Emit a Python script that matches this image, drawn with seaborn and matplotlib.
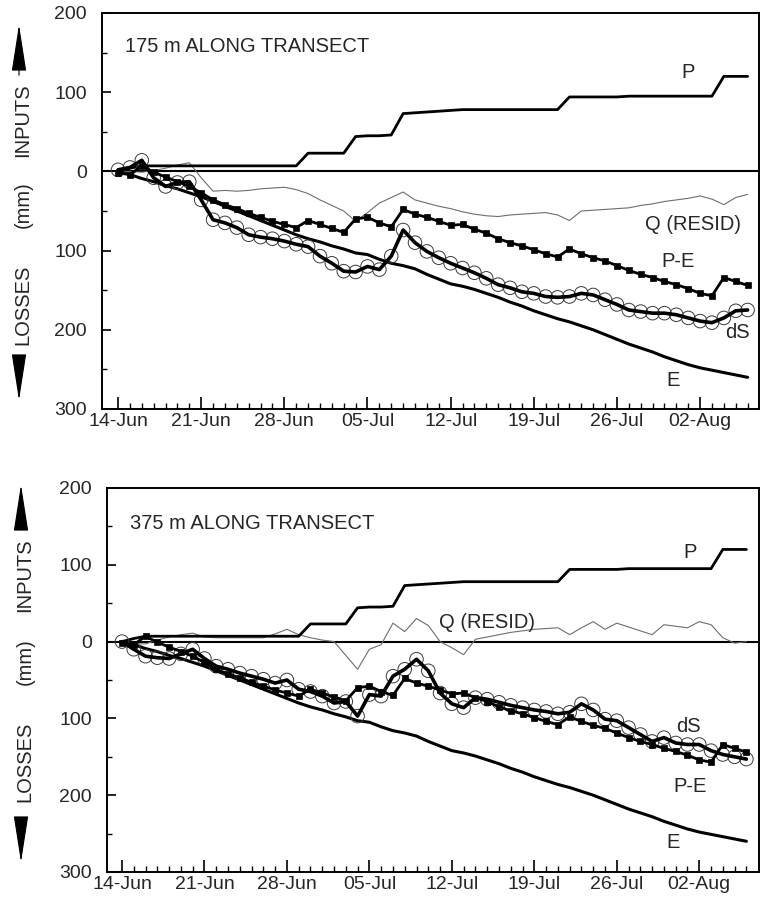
import matplotlib
matplotlib.use("Agg")
import matplotlib.pyplot as plt
import seaborn as sns
import numpy as np

sns.set_style("ticks")
plt.rcParams['font.family'] = ['Liberation Sans', 'DejaVu Sans']

# ---------------- data (days since 14-Jun) ----------------
days = list(range(54))
tick_days = [0, 7, 14, 21, 28, 35, 42, 49]
tick_labels = ["14-Jun", "21-Jun", "28-Jun", "05-Jul", "12-Jul", "19-Jul", "26-Jul", "02-Aug"]
y_major = [200, 100, 0, -100, -200, -300]
y_labels = ["200", "100", "0", "100", "200", "300"]
y_minor = [150, 50, -50, -150, -250]

P = [0, 4, 7, 7, 7, 7, 7, 7, 7, 7, 7, 7, 7, 7, 7, 7, 23, 23, 23, 23,
     44, 45, 45, 46, 73, 74, 75, 76, 77, 78, 78, 78, 78, 78, 78, 78, 78, 78,
     94, 94, 94, 94, 94, 95, 95, 95, 95, 95, 95, 95, 95, 120, 120, 120]

E = [0, -4, -9, -13, -18, -22, -27, -32, -38, -44, -50, -56, -62, -68, -74,
     -80, -85, -89, -94, -98, -103, -105, -111, -116, -119, -123, -130, -136,
     -142, -145, -149, -154, -159, -165, -170, -176, -181, -186, -190, -195,
     -200, -206, -212, -218, -223, -228, -234, -239, -244, -248, -251, -254,
     -257, -260]

PE = [-2, -4, 7, -1, -7, -13, -19, -27, -36, -42, -47, -53, -58, -63, -67,
      -71, -62, -67, -72, -77, -60, -58, -65, -70, -48, -54, -58, -63, -68,
      -67, -73, -78, -85, -90, -94, -99, -104, -108, -98, -104, -109, -113,
      -119, -125, -130, -134, -139, -143, -148, -154, -157, -134, -139, -144]

dS_175 = [2, 5, 14, -8, -19, -14, -13, -36, -61, -65, -71, -80, -83, -85, -88,
          -92, -95, -107, -116, -126, -127, -120, -124, -107, -74, -90, -101,
          -109, -116, -122, -128, -135, -143, -147, -152, -154, -158, -159,
          -158, -154, -156, -162, -168, -175, -177, -179, -179, -181, -185,
          -189, -191, -185, -176, -175]

Q_175 = [0, 0, -1, 1, 4, 8, 11, -8, -25, -24, -25, -24, -22, -21, -20, -23,
         -28, -36, -43, -50, -63, -52, -40, -33, -26, -36, -40, -44, -47, -51,
         -54, -56, -57, -55, -54, -53, -52, -55, -62, -50, -49, -48, -47, -46,
         -43, -41, -38, -36, -34, -31, -35, -42, -33, -29]

dS_375 = [0, -10, -19, -21, -22, -16, -10, -22, -32, -36, -41, -45, -49, -54,
          -50, -62, -65, -71, -80, -78, -97, -69, -71, -45, -36, -23, -38, -67,
          -81, -86, -73, -75, -79, -83, -86, -89, -91, -94, -92, -81, -89,
          -101, -103, -112, -121, -130, -125, -132, -134, -134, -142, -147,
          -150, -153]

Q_375 = [0, -3, -3, 2, 6, 9, 11, 6, 5, 5, 5, 5, 5, 10, 16, 9, 5, 2, 0, -18,
         -36, -10, -4, 24, 13, 30, 21, 0, -8, -17, 3, 6, 9, 12, 14, 16, 17, 18,
         9, 18, 26, 16, 24, 19, 14, 9, 22, 20, 18, 26, 22, 5, -2, 0]

W, H = 760, 907
fig = plt.figure(figsize=(W / 100, H / 100), dpi=100)


def px_axes(l, t, r, b):
    return fig.add_axes([l / W, 1 - b / H, (r - l) / W, (b - t) / H])


ax1 = px_axes(102, 13, 759, 409)
ax2 = px_axes(107, 488, 759, 872)

panels = [
    (ax1, dS_175, Q_175, "175 m ALONG TRANSECT", 0.916, (-1.35, 53.96),
     {"P": (688, 72), "Q (RESID)": (693, 225), "P-E": (678, 262),
      "dS": (737, 333), "E": (673, 380)}),
    (ax2, dS_375, Q_375, "375 m ALONG TRANSECT", 0.908, (-1.27, 54.07),
     {"P": (690, 552), "Q (RESID)": (487, 623), "dS": (688, 727),
      "P-E": (690, 787), "E": (673, 843)}),
]

for ax, dS, Q, title, ty, xl, labels in panels:
    ax.axhline(0, color="black", lw=1.5, zorder=1)
    sns.lineplot(x=days, y=Q, ax=ax, color="#6e6e6e", lw=0.8, zorder=2)
    sns.lineplot(x=days, y=P, ax=ax, color="black", lw=2.0, zorder=3)
    sns.lineplot(x=days, y=E, ax=ax, color="black", lw=2.2, zorder=3)
    sns.scatterplot(x=days, y=dS, ax=ax, s=95, facecolor="none",
                    edgecolor="#3a3a3a", linewidth=0.7, zorder=4)
    sns.lineplot(x=days, y=dS, ax=ax, color="black", lw=2.6, zorder=5)
    sns.lineplot(x=days, y=PE, ax=ax, color="black", lw=2.0, marker="s",
                 markersize=5, markerfacecolor="black",
                 markeredgecolor="black", markeredgewidth=0.5, zorder=6)

    ax.set_xlim(*xl)
    ax.set_ylim(-300, 200)
    ax.set_xticks(tick_days)
    ax.set_xticklabels(tick_labels)
    ax.set_xticks(days, minor=True)
    ax.set_yticks(y_major)
    ax.set_yticklabels(y_labels)
    ax.set_yticks(y_minor, minor=True)
    ax.tick_params(axis="x", which="major", direction="in", length=8.5,
                   width=1.2, labelsize=14, pad=3, color="black")
    ax.tick_params(axis="x", which="minor", direction="in", length=4.3,
                   width=1.0, color="black")
    ax.tick_params(axis="y", which="major", direction="in", length=6.5,
                   width=1.2, labelsize=14, pad=11, color="black")
    ax.tick_params(axis="y", which="minor", direction="in", length=3.5,
                   width=1.0, color="black")
    for sp in ax.spines.values():
        sp.set_visible(True)
        sp.set_color("black")
        sp.set_linewidth(1.4)
    ax.set_xlabel("")
    ax.set_ylabel("")

    ax.text(0.035, ty, title, transform=ax.transAxes, fontsize=14.5,
            ha="left", va="center")
    for txt, (xp, yp) in labels.items():
        fig.text(xp / W, 1 - yp / H, txt, fontsize=14.5, ha="center",
                 va="center")

# y-axis side labels and arrows
side = [
    (23, 19, 120, 205, 305, (22, 78), (403, 356)),
    (25, 21, 575, 662, 762, (482, 520), (865, 818)),
]
for xc, xa, yi, ym, yl, (utip, utail), (dtip, dtail) in side:
    fig.text(xc / W, 1 - yi / H, "INPUTS", rotation=90, fontsize=14.5,
             ha="center", va="center")
    fig.text(xc / W, 1 - ym / H, "(mm)", rotation=90, fontsize=14.5,
             ha="center", va="center")
    fig.text(xc / W, 1 - yl / H, "LOSSES", rotation=90, fontsize=14.5,
             ha="center", va="center")
    for tip, tail in ((utip, utail), (dtip, dtail)):
        fig.patches.append(matplotlib.patches.FancyArrowPatch(
            (xa, H - tail), (xa, H - tip),
            transform=None, figure=fig,
            arrowstyle="-|>,head_length=3.0,head_width=0.47",
            mutation_scale=10, lw=0.8, color="black"))

fig.savefig("out.png", dpi=100)
